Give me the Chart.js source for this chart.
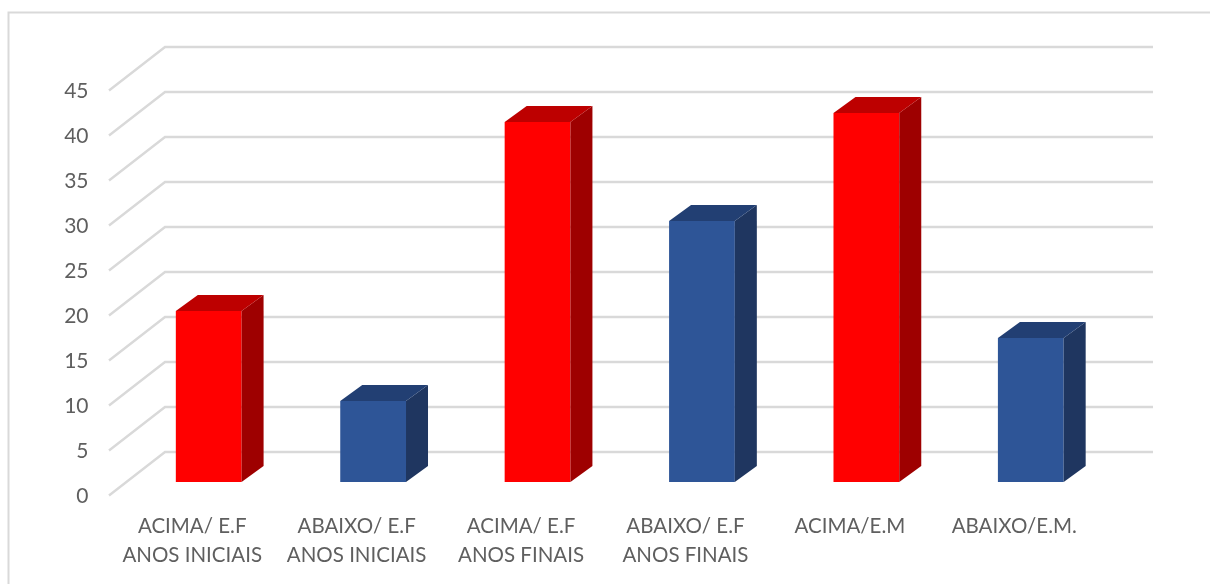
<!DOCTYPE html>
<html>
<head>
<meta charset="utf-8">
<title>Chart</title>
<script src="https://cdn.jsdelivr.net/npm/chart.js@4/dist/chart.umd.min.js"></script>
<style>
  html, body { margin: 0; padding: 0; background: #fff; }
  canvas { display: block; }
</style>
</head>
<body>
<canvas id="barChart" width="1210" height="584"></canvas>
<script>
// ====== DATA ======
const categories = [
  ["ACIMA/ E.F", "ANOS INICIAIS"],
  ["ABAIXO/ E.F", "ANOS INICIAIS"],
  ["ACIMA/ E.F", "ANOS FINAIS"],
  ["ABAIXO/ E.F", "ANOS FINAIS"],
  ["ACIMA/E.M"],
  ["ABAIXO/E.M."]
];
const values = [19, 9, 40, 29, 41, 16];

// ====== COLORS ======
const RED = { front: "#ff0000", side: "#9e0000", top: "#bd0000" };
const BLUE = { front: "#2e5597", side: "#1f3660", top: "#223f73" };
const barColors = [RED, BLUE, RED, BLUE, RED, BLUE];
const GRID_COLOR = "#d9d9d9";
const TEXT_COLOR = "#5f5f5f";

// fake 3D: bars sit mid depth, the wall is behind them and the grid ends in front
const BAR_DX = 22, BAR_DY = -16;
const WALL_DX = 38.5, WALL_DY = -30;
const FRONT_DX = -17.5, FRONT_DY = 13.5;

function poly(ctx, color, pts) {
  ctx.fillStyle = color;
  ctx.beginPath();
  ctx.moveTo(pts[0][0], pts[0][1]);
  for (let i = 1; i < pts.length; i++) ctx.lineTo(pts[i][0], pts[i][1]);
  ctx.closePath();
  ctx.fill();
}

const framePlugin = {
  id: "frame",
  beforeDraw(chart) {
    const ctx = chart.ctx;
    ctx.save();
    ctx.strokeStyle = "#d9d9d9";
    ctx.lineWidth = 2;
    ctx.beginPath();
    ctx.moveTo(8.5, chart.height);
    ctx.lineTo(8.5, 12.5);
    ctx.lineTo(chart.width, 12.5);
    ctx.stroke();
    ctx.restore();
  }
};

const wallPlugin = {
  id: "wall",
  beforeDatasetsDraw(chart) {
    const ctx = chart.ctx;
    const y = chart.scales.y;
    const area = chart.chartArea;
    ctx.save();
    ctx.strokeStyle = GRID_COLOR;
    ctx.lineWidth = 2.4;
    y.ticks.forEach(t => {
      const py = y.getPixelForValue(t.value);
      ctx.beginPath();
      ctx.moveTo(area.left + FRONT_DX, py + FRONT_DY);
      ctx.lineTo(area.left + WALL_DX, py + WALL_DY);
      ctx.lineTo(area.right + WALL_DX + 1.5, py + WALL_DY);
      ctx.stroke();
    });
    ctx.restore();
  }
};

const depthPlugin = {
  id: "depth",
  afterDatasetsDraw(chart) {
    const ctx = chart.ctx;
    chart.getDatasetMeta(0).data.forEach((bar, i) => {
      const l = bar.x - bar.width / 2;
      const r = bar.x + bar.width / 2;
      const t = bar.y;
      const b = bar.base;
      poly(ctx, barColors[i].side, [[r, t], [r + BAR_DX, t + BAR_DY], [r + BAR_DX, b + BAR_DY], [r, b]]);
      poly(ctx, barColors[i].top, [[l, t], [l + BAR_DX, t + BAR_DY], [r + BAR_DX, t + BAR_DY], [r, t]]);
    });
  }
};

new Chart(document.getElementById("barChart").getContext("2d"), {
  type: "bar",
  data: {
    labels: categories,
    datasets: [{
      data: values,
      backgroundColor: barColors.map(c => c.front),
      borderWidth: 0,
      barPercentage: 0.4,
      categoryPercentage: 1
    }]
  },
  options: {
    responsive: false,
    animation: false,
    layout: { padding: { left: 0, top: 77, right: 97, bottom: 0 } },
    plugins: { legend: { display: false }, title: { display: false }, tooltip: { enabled: false } },
    scales: {
      x: {
        grid: { display: false },
        border: { display: false },
        afterFit(scale) { scale.height = 102; },
        ticks: {
          color: TEXT_COLOR,
          font: { family: "Lato", size: 20.5, lineHeight: "29px" },
          padding: 22,
          labelOffset: -16.5,
          maxRotation: 0,
          autoSkip: false
        }
      },
      y: {
        min: 0,
        max: 45,
        grid: { display: false },
        border: { display: false },
        afterFit(scale) { scale.width = 126.5; },
        ticks: {
          stepSize: 5,
          color: TEXT_COLOR,
          font: { family: "Lato", size: 21 },
          padding: 30,
          labelOffset: 14
        }
      }
    }
  },
  plugins: [framePlugin, wallPlugin, depthPlugin]
});
</script>
</body>
</html>
